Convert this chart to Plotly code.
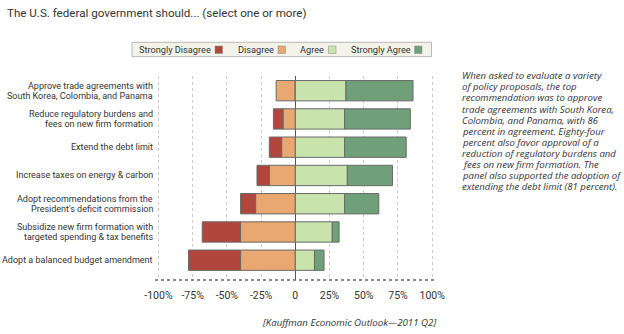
import plotly.graph_objects as go

categories = [
    "Approve trade agreements with<br>South Korea, Colombia, and Panama",
    "Reduce regulatory burdens and<br>fees on new firm formation",
    "Extend the debt limit",
    "Increase taxes on energy & carbon",
    "Adopt recommendations from the<br>President's deficit commission",
    "Subsidize new firm formation with<br>targeted spending & tax benefits",
    "Adopt a balanced budget amendment",
]
strongly_disagree = [0, 7, 9, 9, 11, 28, 38]
disagree = [14, 9, 10, 19, 29, 40, 40]
agree = [37, 36, 36, 38, 36, 27, 14]
strongly_agree = [49, 48, 45, 33, 25, 5, 7]

tick_vals = [-100, -75, -50, -25, 0, 25, 50, 75, 100]
tick_text = ["-100%", "-75%", "-50%", "-25%", "0", "25%", "50%", "75%", "100%"]

series_names = ["Strongly Disagree", "Disagree", "Agree", "Strongly Agree"]
colors = {"Strongly Disagree": "#b0463c", "Disagree": "#e9a771",
          "Agree": "#c8e3ab", "Strongly Agree": "#70a07a"}

W, H = 624, 334
L, T, R, B = 155, 76, 187, 54
PW, PH = W - L - R, H - T - B

def px_x(px):
    return (px - L) / PW

def px_y(py):
    return 1 - (py - T) / PH

NARROW = "Roboto, sans-serif"
ITAL = "Open Sans, sans-serif"
TXT = "#333333"

y_idx = list(range(len(categories)))
fig = go.Figure()
for name, vals, sign in [("Disagree", disagree, -1), ("Strongly Disagree", strongly_disagree, -1),
                         ("Agree", agree, 1), ("Strongly Agree", strongly_agree, 1)]:
    fig.add_trace(go.Bar(
        y=y_idx, x=[sign * v for v in vals], orientation="h", name=name,
        marker=dict(color=colors[name], line=dict(color="#6a6a6a", width=1)),
        width=0.72, showlegend=False, hoverinfo="x+name",
    ))

fig.update_layout(
    width=W, height=H, barmode="relative",
    margin=dict(l=L, r=R, t=T, b=B),
    paper_bgcolor="white", plot_bgcolor="white",
    xaxis=dict(range=[-102.5, 103.5], tickvals=tick_vals, ticktext=tick_text,
               showgrid=True, gridcolor="#c9c9c9", griddash="dot", gridwidth=1,
               zeroline=True, zerolinecolor="#555555", zerolinewidth=1,
               tickfont=dict(family=NARROW, size=10.5, color=TXT), ticks="",
               ticklabelstandoff=7, fixedrange=True),
    yaxis=dict(range=[6.7, -0.52], showticklabels=False, showgrid=False,
               zeroline=False, fixedrange=True),
    font=dict(family=NARROW, color=TXT),
)

# bottom axis line (dotted)
fig.add_shape(type="line", xref="paper", yref="paper", x0=0, x1=1, y0=0, y1=0,
              line=dict(color="#666666", width=1.5, dash="dot"))

annotations = []
# category labels
for i, cat in enumerate(categories):
    lines = cat.split("<br>")
    n = len(lines)
    for j, line in enumerate(lines):
        shift = (-(j - (n - 1) / 2)) * 9.8
        annotations.append(dict(
            text=line, x=px_x(153.5), xref="paper", y=i, yref="y", yshift=shift,
            xanchor="right", yanchor="middle", showarrow=False, borderpad=0,
            font=dict(family=NARROW, size=9.0, color=TXT)))

# title
annotations.append(dict(text="The U.S. federal government should... (select one or more)",
                        x=px_x(5), y=px_y(12.5), xref="paper", yref="paper",
                        xanchor="left", yanchor="middle", showarrow=False,
                        font=dict(family=NARROW, size=11.6, color=TXT)))

# custom legend
fig.add_shape(type="rect", xref="paper", yref="paper",
              x0=px_x(132), x1=px_x(431.5), y0=px_y(42.3), y1=px_y(56.7),
              line=dict(color="#b8b8b8", width=1), fillcolor="#f3f3ea", layer="below")
legend_items = [("Strongly Disagree", 138, 215), ("Disagree", 237, 278),
                ("Agree", 299, 328.5), ("Strongly Agree", 349.5, 414.5)]
for name, tx, sx in legend_items:
    annotations.append(dict(text=name, x=px_x(tx), y=px_y(49.5), xref="paper", yref="paper",
                            xanchor="left", yanchor="middle", showarrow=False, borderpad=0,
                            font=dict(family=NARROW, size=9.2, color=TXT)))
    fig.add_shape(type="rect", xref="paper", yref="paper",
                  x0=px_x(sx), x1=px_x(sx + 7.5), y0=px_y(46), y1=px_y(53.5),
                  line=dict(color="#888888", width=0.5), fillcolor=colors[name])

# side note
note_lines = [
    "When asked to evaluate a variety",
    "of policy proposals, the top",
    "recommendation was to approve",
    "trade agreements with South Korea,",
    "Colombia, and Panama, with 86",
    "percent in agreement. Eighty-four",
    "percent also favor approval of a",
    "reduction of regulatory burdens and",
    "fees on new firm formation. The",
    "panel also supported the adoption of",
    "extending the debt limit (81 percent).",
]
for k, line in enumerate(note_lines):
    annotations.append(dict(text="<i>" + line + "</i>", x=px_x(461), y=px_y(75.7 + k * 11.1),
                            xref="paper", yref="paper", xanchor="left", yanchor="middle",
                            showarrow=False, borderpad=0,
                            font=dict(family=ITAL, size=9.6, color=TXT)))

# source
annotations.append(dict(text="<i>[Kauffman Economic Outlook\u20142011 Q2]</i>",
                        x=px_x(438), y=px_y(322), xref="paper", yref="paper",
                        xanchor="right", yanchor="middle", showarrow=False,
                        font=dict(family=ITAL, size=9.7, color=TXT)))

fig.update_layout(annotations=annotations)
fig.write_html("out.html")
